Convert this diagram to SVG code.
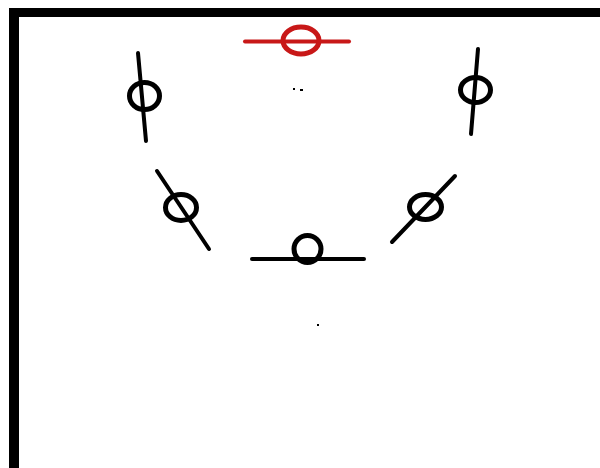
<svg xmlns="http://www.w3.org/2000/svg" width="600" height="468" viewBox="0 0 600 468">
<style>
.c{fill:none;stroke:#000;stroke-width:5}
.l{stroke:#000;stroke-width:4;stroke-linecap:round}
.r .c{stroke:#c81818}
.r .l{stroke:#c81818}
</style>
<rect width="600" height="468" fill="#fff"/>
<g id="frame">
<line x1="9" y1="12.5" x2="600" y2="12.5" stroke="#000" stroke-width="9"/>
<line x1="14" y1="10" x2="14" y2="468" stroke="#000" stroke-width="10"/>
</g>
<g id="n-red" class="r">
<line class="l" x1="245" y1="41.5" x2="349" y2="41.5"/>
<ellipse class="c" cx="301" cy="40.5" rx="18" ry="13.5"/>
</g>
<g id="n-ul">
<line class="l" x1="138" y1="53" x2="146" y2="141"/>
<ellipse class="c" cx="144.5" cy="96" rx="15" ry="13.5"/>
</g>
<g id="n-ur">
<line class="l" x1="478" y1="49" x2="471" y2="134"/>
<ellipse class="c" cx="475.5" cy="90" rx="15" ry="12.5"/>
</g>
<g id="n-ml">
<line class="l" x1="157" y1="171" x2="209" y2="249"/>
<ellipse class="c" cx="181" cy="207.5" rx="15.5" ry="13"/>
</g>
<g id="n-mr">
<line class="l" x1="455" y1="176" x2="392" y2="242"/>
<ellipse class="c" cx="425.5" cy="207" rx="16" ry="12.5"/>
</g>
<g id="n-bottom">
<line class="l" x1="252" y1="259" x2="364" y2="259"/>
<ellipse class="c" cx="307.5" cy="249" rx="13.5" ry="13.5"/>
</g>
<g id="dots" fill="#000">
<rect x="293" y="88" width="2" height="2"/>
<rect x="300" y="89" width="3" height="2"/>
<rect x="317" y="324" width="2" height="2"/>
</g>
</svg>
